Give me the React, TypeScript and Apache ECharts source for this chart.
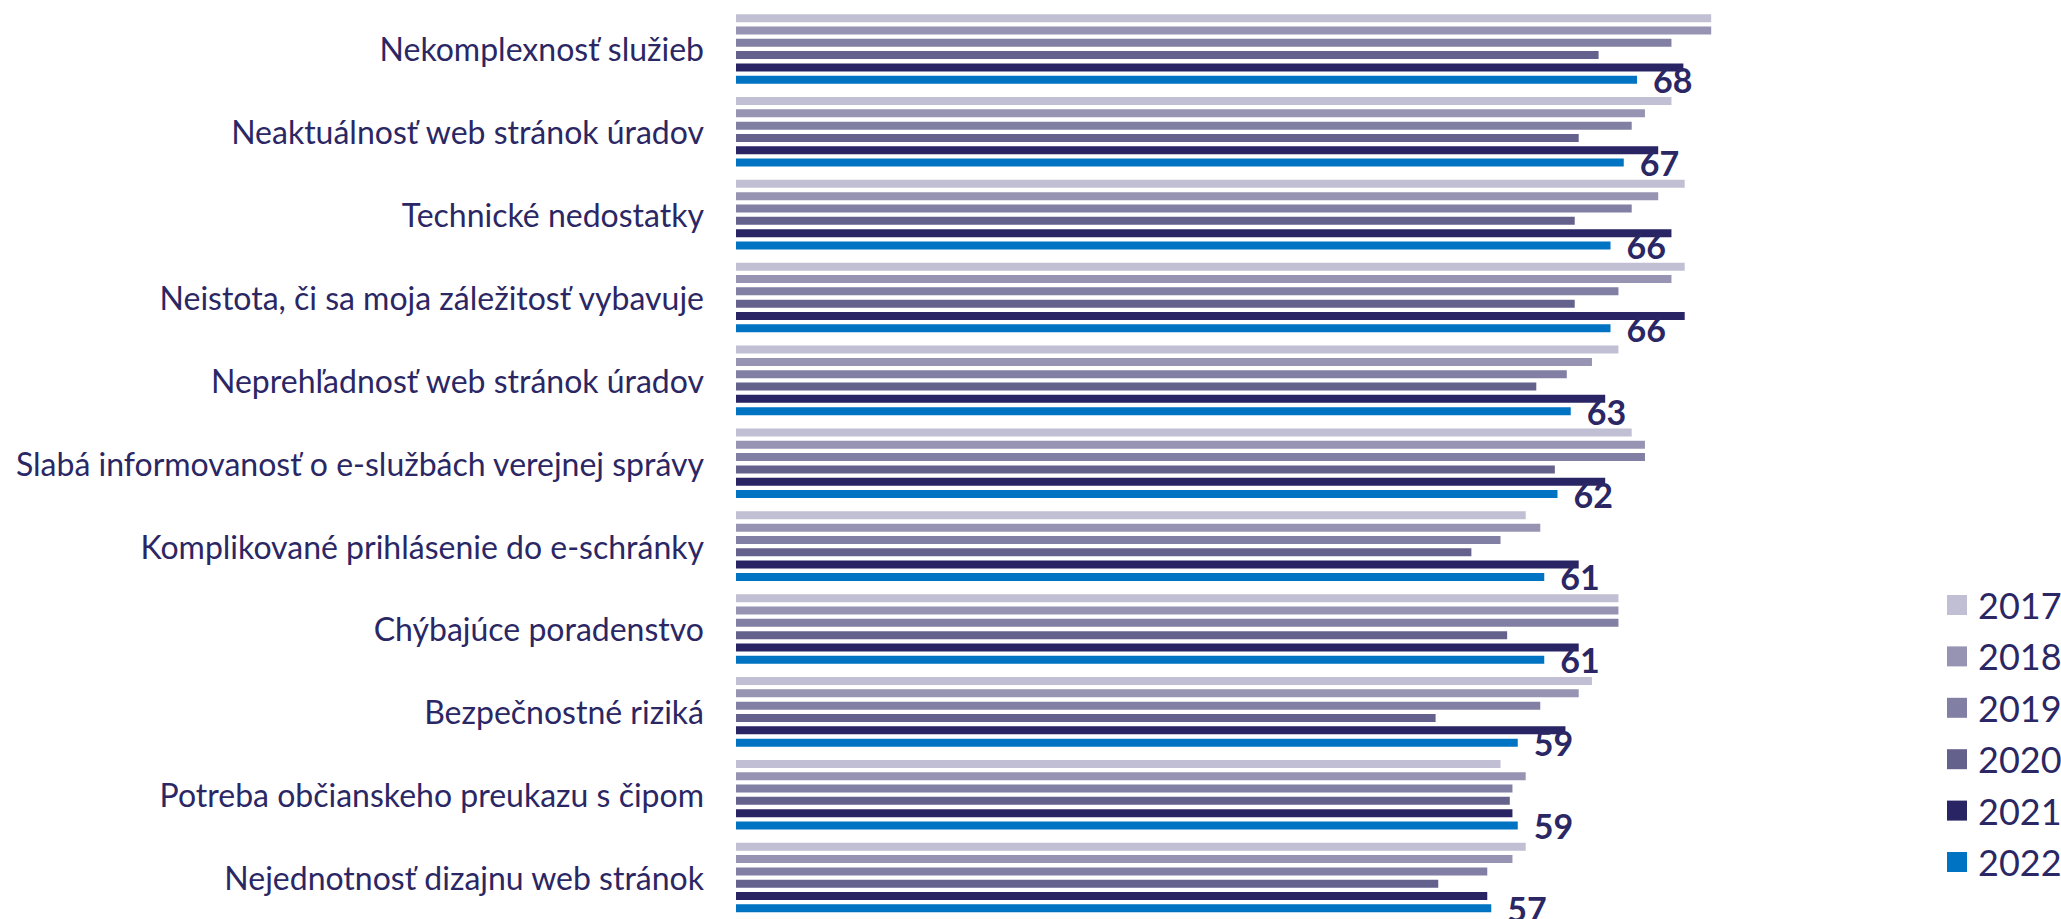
import React, { useEffect, useRef } from "react";
import * as echarts from "echarts";

// Problems reported with e-government services, share of respondents (%) by survey year
const categories = [
  "Nekomplexnosť služieb",
  "Neaktuálnosť web stránok úradov",
  "Technické nedostatky",
  "Neistota, či sa moja záležitosť vybavuje",
  "Neprehľadnosť web stránok úradov",
  "Slabá informovanosť o e-službách verejnej správy",
  "Komplikované prihlásenie do e-schránky",
  "Chýbajúce poradenstvo",
  "Bezpečnostné riziká",
  "Potreba občianskeho preukazu s čipom",
  "Nejednotnosť dizajnu web stránok",
];

const years = ["2017", "2018", "2019", "2020", "2021", "2022"];

const values2017 = [73.6, 70.6, 71.6, 71.6, 66.6, 67.6, 59.6, 66.6, 64.6, 57.7, 59.6];
const values2018 = [73.6, 68.6, 69.6, 70.6, 64.6, 68.6, 60.7, 66.6, 63.6, 59.6, 58.6];
const values2019 = [70.6, 67.6, 67.6, 66.6, 62.7, 68.6, 57.7, 66.6, 60.7, 58.6, 56.7];
const values2020 = [65.1, 63.6, 63.3, 63.3, 60.4, 61.8, 55.5, 58.2, 52.8, 58.4, 53.0];
const values2021 = [71.5, 69.6, 70.6, 71.6, 65.6, 65.6, 63.6, 63.6, 62.6, 58.6, 56.7];
const values2022 = [68, 67, 66, 66, 63, 62, 61, 61, 59, 59, 57];

const yearValues = [values2017, values2018, values2019, values2020, values2021, values2022];
const yearColors = ["#c0bfd3", "#9693b3", "#817fa3", "#65618d", "#292464", "#0073c2"];

const NAVY = "#2b2764";
const FONT = "Lato, 'Noto Sans', sans-serif";

export default function App() {
  const ref = useRef<HTMLDivElement | null>(null);

  useEffect(() => {
    if (!ref.current) return;
    const chart = echarts.init(ref.current, undefined, { renderer: "svg" });

    const series = years.map((year, i) => ({
      name: year,
      type: "bar",
      data: yearValues[i],
      barWidth: 8,
      barGap: "54%",
      itemStyle: { color: yearColors[i] },
      emphasis: { disabled: true },
      label:
        i === years.length - 1
          ? {
              show: true,
              position: "right",
              distance: 16,
              formatter: "{c}",
              fontFamily: FONT,
              fontSize: 34,
              fontWeight: "bold",
              color: NAVY,
            }
          : { show: false },
      z: 2,
    }));

    chart.setOption({
      animation: false,
      backgroundColor: "#ffffff",
      grid: { left: 736, top: 7.5, width: 1328, height: 920.4, containLabel: false },
      xAxis: {
        type: "value",
        min: 0,
        max: 100,
        show: false,
      },
      yAxis: {
        type: "category",
        data: categories,
        inverse: true,
        axisLine: { show: false },
        axisTick: { show: false },
        splitLine: { show: false },
        axisLabel: {
          fontFamily: FONT,
          fontSize: 32,
          color: NAVY,
          margin: 32,
        },
      },
      legend: {
        data: years,
        orient: "vertical",
        left: 1942,
        top: 582,
        icon: "rect",
        itemWidth: 20,
        itemHeight: 20,
        itemGap: 15.4,
        selectedMode: false,
        textStyle: {
          fontFamily: FONT,
          fontSize: 36,
          lineHeight: 36,
          color: NAVY,
          padding: [0, 0, 0, 6],
        },
      },
      series,
    });

    return () => chart.dispose();
  }, []);

  return (
    <div
      ref={ref}
      style={{ position: "fixed", left: 0, top: 0, width: 2061, height: 919, background: "#fff" }}
    />
  );
}
